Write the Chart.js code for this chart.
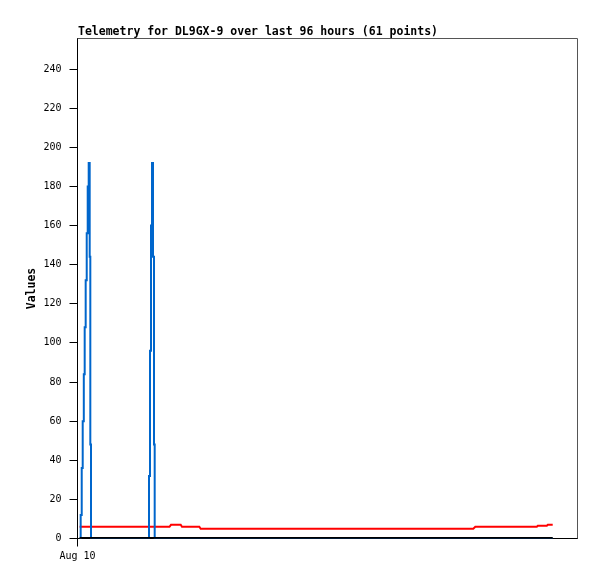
<!DOCTYPE html>
<html>
<head>
<meta charset="utf-8">
<script src="https://cdn.jsdelivr.net/npm/chart.js@4.4.1/dist/chart.umd.min.js"></script>
<style>
  html, body { margin: 0; padding: 0; background: #fff; }
  #wrap { width: 597px; height: 579px; }
</style>
</head>
<body>
<div id="wrap"><canvas id="c" width="597" height="579"></canvas></div>
<script>
const titleText = 'Telemetry for DL9GX-9 over last 96 hours (61 points)';
const yAxisLabel = 'Values';

// hours since Aug 10 00:00
const hours = [
  0.40, 0.61, 0.81, 1.00, 1.21, 1.38, 1.57, 1.77, 1.96, 2.15, 2.34, 2.46, 2.59,
  5.2, 8.1, 11.0,
  13.73, 13.92, 14.11, 14.30, 14.50, 14.69, 14.82,
  17.66, 17.95, 19.81, 20.06, 23.39, 23.65,
  26.0, 28.4, 30.8, 33.2, 35.6, 38.0, 40.4, 42.8, 45.2, 47.6, 50.0,
  52.4, 54.8, 57.2, 59.6, 62.0, 64.4, 66.8, 69.2, 71.6, 74.0,
  75.99, 76.38, 78.8, 81.2, 83.6, 86.0,
  88.19, 88.38, 90.11, 90.30, 91.24
];
const blueValues = [
  0, 12, 36, 60, 84, 108, 132, 156, 180, 192, 144, 48, 0,
  0, 0, 0,
  32, 96, 160, 192, 144, 48, 0,
  0, 0, 0, 0, 0, 0,
  0, 0, 0, 0, 0, 0, 0, 0, 0, 0, 0,
  0, 0, 0, 0, 0, 0, 0, 0, 0, 0,
  0, 0, 0, 0, 0, 0,
  0, 0, 0, 0, 0
];
const redValues = [
  6, 6, 6, 6, 6, 6, 6, 6, 6, 6, 6, 6, 6,
  6, 6, 6,
  6, 6, 6, 6, 6, 6, 6,
  6, 7, 7, 6, 6, 5,
  5, 5, 5, 5, 5, 5, 5, 5, 5, 5, 5,
  5, 5, 5, 5, 5, 5, 5, 5, 5, 5,
  5, 6, 6, 6, 6, 6,
  6, 6.5, 6.5, 7, 7
];
const blackValues = hours.map(() => 0);

const yTicks = [0, 20, 40, 60, 80, 100, 120, 140, 160, 180, 200, 220, 240];
const xTickHours = [0];
const xTickLabels = ['Aug 10'];

function pts(vals) {
  return hours.map((h, i) => ({ x: h, y: vals[i] }));
}

const frameAndTitle = {
  id: 'frameAndTitle',
  afterDraw(chart) {
    const { ctx, chartArea: a } = chart;
    ctx.save();
    ctx.strokeStyle = '#555';
    ctx.lineWidth = 1;
    ctx.beginPath();
    ctx.moveTo(a.left, a.top);
    ctx.lineTo(a.right, a.top);
    ctx.lineTo(a.right, a.bottom);
    ctx.stroke();
    ctx.fillStyle = '#000';
    ctx.font = 'bold 11.5px "DejaVu Sans Mono"';
    ctx.textBaseline = 'alphabetic';
    ctx.textAlign = 'left';
    ctx.fillText(titleText, 78, 35);
    ctx.restore();
  }
};

new Chart(document.getElementById('c'), {
  type: 'line',
  data: {
    datasets: [
      { label: 'black', data: pts(blackValues), borderColor: '#000', borderWidth: 3, pointRadius: 0 },
      { label: 'blue', data: pts(blueValues), borderColor: '#0066cc', borderWidth: 2, pointRadius: 0, stepped: 'before' },
      { label: 'red', data: pts(redValues), borderColor: '#ff0000', borderWidth: 2, pointRadius: 0 }
    ]
  },
  options: {
    responsive: false,
    animation: false,
    devicePixelRatio: 1,
    layout: { padding: { top: 38.5, right: 19.5, left: 0, bottom: 0 } },
    plugins: { legend: { display: false }, tooltip: { enabled: false }, title: { display: false } },
    scales: {
      x: {
        type: 'linear',
        min: 0,
        max: 96,
        afterFit(s) { s.height = 579 - 538.5; },
        afterBuildTicks(s) { s.ticks = xTickHours.map(v => ({ value: v })); },
        ticks: {
          autoSkip: false,
          maxRotation: 0,
          padding: 4,
          color: '#000',
          font: { family: 'DejaVu Sans Mono', size: 10 },
          callback: (v) => xTickLabels[xTickHours.indexOf(v)] || ''
        },
        grid: { drawOnChartArea: false, drawTicks: true, tickLength: 8, color: '#000' },
        border: { display: true, color: '#000', width: 1 }
      },
      y: {
        type: 'linear',
        min: 0,
        max: 255.6,
        afterFit(s) { s.width = 77.5; },
        afterBuildTicks(s) { s.ticks = yTicks.map(v => ({ value: v })); },
        ticks: {
          padding: 8,
          color: '#000',
          font: { family: 'DejaVu Sans Mono', size: 10 }
        },
        grid: { drawOnChartArea: false, drawTicks: true, tickLength: 8, color: '#000' },
        border: { display: true, color: '#000', width: 1 },
        title: {
          display: true,
          text: yAxisLabel,
          color: '#000',
          font: { family: 'DejaVu Sans Mono', size: 11.5, weight: 'bold' },
          padding: { top: 25, bottom: 0 }
        }
      }
    }
  },
  plugins: [frameAndTitle]
});
</script>
</body>
</html>
